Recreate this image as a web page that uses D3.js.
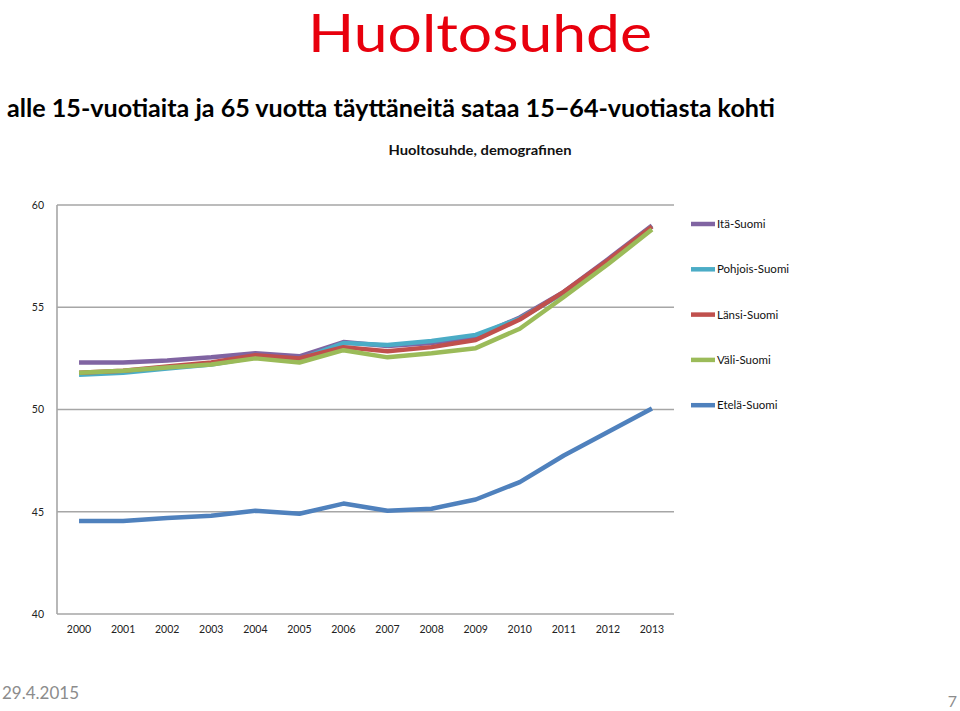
<!DOCTYPE html>
<html><head><meta charset="utf-8">
<script src="https://cdn.jsdelivr.net/npm/d3@7"></script>
<style>body{margin:0;background:#fff}svg{display:block}</style>
</head><body>
<svg id="c" width="960" height="711"></svg>
<script>
const years = ["2000","2001","2002","2003","2004","2005","2006","2007","2008","2009","2010","2011","2012","2013"];
const yTicks = [40,45,50,55,60];
const seriesNames = ["Itä-Suomi","Pohjois-Suomi","Länsi-Suomi","Väli-Suomi","Etelä-Suomi"];
const colors = ["#8064A2","#4BACC6","#C0504D","#9BBB59","#4F81BD"];
const itaSuomi     = [52.3,52.3,52.4,52.55,52.75,52.6,53.3,53.1,53.25,53.55,54.5,55.75,57.35,59.0];
const pohjoisSuomi = [51.7,51.8,52.0,52.2,52.55,52.45,53.25,53.15,53.35,53.65,54.45,55.7,57.25,58.95];
const lansiSuomi   = [51.8,51.9,52.1,52.3,52.65,52.5,53.05,52.85,53.05,53.4,54.4,55.75,57.3,58.95];
const valiSuomi    = [51.8,51.9,52.05,52.2,52.5,52.3,52.9,52.55,52.75,53.0,53.95,55.5,57.1,58.8];
const etelaSuomi   = [44.55,44.55,44.7,44.8,45.05,44.9,45.4,45.05,45.15,45.6,46.45,47.75,48.9,50.05];
const seriesValues = [itaSuomi,pohjoisSuomi,lansiSuomi,valiSuomi,etelaSuomi];

const svg = d3.select("#c");
const font = "Lato, 'Open Sans', sans-serif";

// Slide titles
svg.append("text").attr("x",480).attr("y",52).attr("text-anchor","middle")
  .attr("font-family",font).attr("font-size",53).attr("fill","#E8000D")
  .attr("textLength",344).attr("lengthAdjust","spacingAndGlyphs").text("Huoltosuhde");
svg.append("text").attr("x",7).attr("y",117)
  .attr("font-family",font).attr("font-size",25).attr("font-weight","bold").attr("fill","#000")
  .attr("textLength",768).attr("lengthAdjust","spacingAndGlyphs")
  .text("alle 15-vuotiaita ja 65 vuotta täyttäneitä sataa 15−64-vuotiasta kohti");
svg.append("text").attr("x",480).attr("y",155).attr("text-anchor","middle")
  .attr("font-family",font).attr("font-size",14).attr("font-weight","bold").attr("fill","#111")
  .attr("textLength",183).attr("lengthAdjust","spacingAndGlyphs")
  .text("Huoltosuhde, demografinen");

// Chart
const L = 57, R = 674, T = 205, B = 614;
const x = d3.scaleBand().domain(years).range([L,R]);
const y = d3.scaleLinear().domain([40,60]).range([B,T]);

const g = svg.append("g");
g.selectAll("line.grid").data(yTicks).join("line")
  .attr("x1",L).attr("x2",R).attr("y1",d=>y(d)).attr("y2",d=>y(d))
  .attr("stroke","#A6A6A6").attr("stroke-width",1.6);
g.append("line").attr("x1",L).attr("x2",L).attr("y1",T).attr("y2",B)
  .attr("stroke","#A6A6A6").attr("stroke-width",1.6);

const yAxis = d3.axisLeft(y).tickValues(yTicks).tickSize(0).tickPadding(13);
const ya = svg.append("g").attr("transform",`translate(${L},0)`).call(yAxis);
ya.select(".domain").remove();
ya.selectAll("text").attr("font-family",font).attr("font-size",10.5).attr("fill","#222");

const xAxis = d3.axisBottom(x).tickSize(0).tickPadding(12);
const xa = svg.append("g").attr("transform",`translate(0,${B})`).call(xAxis);
xa.select(".domain").remove();
xa.selectAll("text").attr("font-family",font).attr("font-size",10.5).attr("fill","#222");

const line = d3.line().x((d,i)=>x(years[i])+x.bandwidth()/2).y(d=>y(d));
seriesValues.forEach((vals,k)=>{
  svg.append("path").datum(vals).attr("d",line).attr("fill","none")
    .attr("stroke",colors[k]).attr("stroke-width",4.5)
    .attr("stroke-linejoin","round").attr("stroke-linecap","butt");
});

const leg = svg.append("g");
seriesNames.forEach((n,k)=>{
  const ly = 224 + k*45.3;
  leg.append("line").attr("x1",691).attr("x2",715).attr("y1",ly).attr("y2",ly)
    .attr("stroke",colors[k]).attr("stroke-width",4.5);
  leg.append("text").attr("x",717).attr("y",ly+4).attr("font-family",font)
    .attr("font-size",11.5).attr("fill","#111").text(n);
});

svg.append("text").attr("x",2).attr("y",699).attr("font-family",font)
  .attr("font-size",17).attr("fill","#8C8C8C").text("29.4.2015");
svg.append("text").attr("x",957).attr("y",707).attr("text-anchor","end").attr("font-family",font)
  .attr("font-size",16).attr("fill","#8C8C8C").text("7");
</script>
</body></html>
